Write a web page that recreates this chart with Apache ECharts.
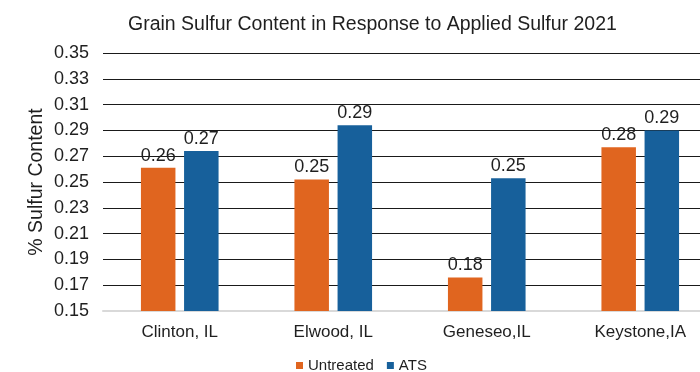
<!DOCTYPE html>
<html>
<head>
<meta charset="utf-8">
<script src="https://cdn.jsdelivr.net/npm/echarts@6/dist/echarts.min.js"></script>
<style>
  html, body { margin: 0; padding: 0; background: #fff; }
  #chart { width: 700px; height: 372px; }
</style>
</head>
<body>
<div id="chart"></div>
<script>
// Sites sampled in 2021
const sites = ['Clinton, IL', 'Elwood, IL', 'Geneseo,IL', 'Keystone,IA'];
// Grain sulfur content (%) per treatment
const untreated = [0.261, 0.252, 0.176, 0.277];
const ats = [0.274, 0.294, 0.253, 0.290];
// Value axis range
const yMin = 0.15;
const yMax = 0.35;
const yStep = 0.02;

const FONT = '"Liberation Sans", Arial, sans-serif';
const INK = '#1f1f1f';

const chart = echarts.init(document.getElementById('chart'), null, { renderer: 'canvas' });

const valueLabel = {
  show: true,
  position: 'top',
  distance: 3,
  color: INK,
  fontFamily: FONT,
  fontSize: 18,
  formatter: p => p.value.toFixed(2)
};

chart.setOption({
  backgroundColor: '#ffffff',
  animation: false,
  title: {
    text: 'Grain Sulfur Content in Response to Applied Sulfur 2021',
    left: 123,
    top: 10,
    textStyle: { fontFamily: FONT, fontSize: 19.5, fontWeight: 'normal', color: INK }
  },
  legend: {
    data: ['Untreated', 'ATS'],
    left: 291,
    top: 353,
    icon: 'rect',
    itemWidth: 7,
    itemHeight: 7,
    itemGap: 13,
    textStyle: { fontFamily: FONT, fontSize: 15, color: INK }
  },
  // plot area runs past the right edge of the canvas
  grid: { left: 103, width: 614, top: 53, bottom: 61, outerBoundsMode: 'none', containLabel: false },
  xAxis: {
    type: 'category',
    data: sites,
    axisTick: { show: false },
    axisLine: { show: true, lineStyle: { color: '#d9d9d9', width: 2 } },
    axisLabel: { fontFamily: FONT, fontSize: 17, color: INK, margin: 13 }
  },
  yAxis: {
    type: 'value',
    min: yMin,
    max: yMax,
    interval: yStep,
    name: '% Sulfur Content',
    nameLocation: 'middle',
    nameRotate: 90,
    nameGap: 56,
    nameMoveOverlap: false,
    nameTextStyle: { fontFamily: FONT, fontSize: 19.5, color: INK },
    axisLine: { show: false },
    axisTick: { show: false },
    axisLabel: {
      fontFamily: FONT,
      fontSize: 18,
      color: INK,
      margin: 14,
      formatter: v => v.toFixed(2)
    },
    splitLine: { show: true, lineStyle: { color: '#1a1a1a', width: 1 } }
  },
  series: [
    {
      name: 'Untreated',
      type: 'bar',
      data: untreated,
      barWidth: 34.5,
      barGap: '25%',
      itemStyle: { color: '#E0651F' },
      label: valueLabel
    },
    {
      name: 'ATS',
      type: 'bar',
      data: ats,
      barWidth: 34.5,
      barGap: '25%',
      itemStyle: { color: '#17609B' },
      label: valueLabel
    }
  ]
});
</script>
</body>
</html>
